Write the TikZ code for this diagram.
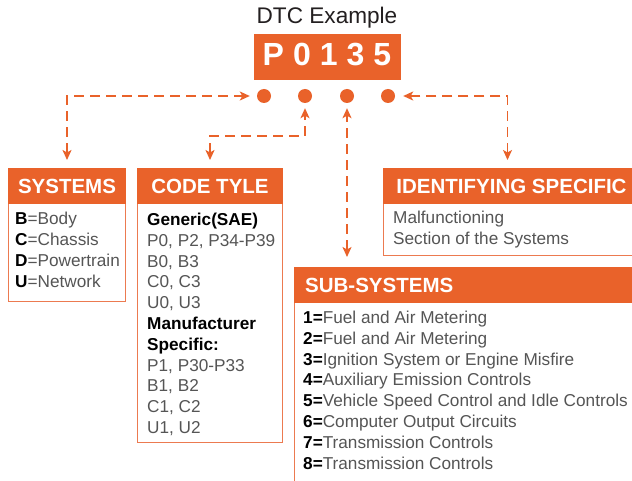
\documentclass[tikz,border=0pt]{standalone}
\usepackage{fontspec}
\setmainfont{Liberation Sans}
\usetikzlibrary{arrows.meta}
\definecolor{org}{HTML}{E9622A}
\definecolor{orgb}{HTML}{EC7A50}
\definecolor{txtg}{HTML}{555555}
\definecolor{ttl}{HTML}{231F20}
\newcommand\bk[1]{\textcolor{black}{\bfseries #1}}
\begin{document}
\begin{tikzpicture}[x=1pt,y=-1pt,
  hdrbox/.style={fill=org, draw=org, line width=1pt, anchor=north west, inner sep=0pt},
  hdrtxt/.style={text=white, inner sep=0pt, font=\fontsize{20.5}{24}\selectfont\bfseries},
  bodybox/.style={draw=orgb, line width=1.4pt, anchor=north west, inner sep=0pt},
  dot/.style={circle, fill=org, minimum size=14pt, inner sep=0pt},
  lnk/.style={draw=org, line width=1.5pt, dash pattern=on 10pt off 6pt,
    {Stealth[length=10pt,width=9pt,inset=2.5pt]}-{Stealth[length=10pt,width=9pt,inset=2.5pt]}},
  bt/.style={anchor=base west, inner sep=0pt, text=txtg, font=\fontsize{17.2}{20.8}\selectfont},
]
\useasboundingbox (0,0) rectangle (632,481);
\fill[white] (0,0) rectangle (632,481);

% title and code
\node[anchor=base, inner sep=0pt, text=ttl, font=\fontsize{22.6}{26}\selectfont] (title) at (327,24) {DTC Example};
\node[hdrbox, minimum width=146pt, minimum height=45pt] (code) at (254,34) {};
\node[anchor=base, inner sep=0pt, text=white, font=\fontsize{32}{36}\selectfont\bfseries] (codetxt) at (327,66)
  {P\hspace{9pt}0\hspace{9pt}1\hspace{9pt}3\hspace{9pt}5};

% dots
\node[dot] (d1) at (264,96) {};
\node[dot] (d2) at (305,96) {};
\node[dot] (d3) at (347,96) {};
\node[dot] (d4) at (388,96) {};

% SYSTEMS
\node[bodybox, minimum width=117pt, minimum height=133pt] (sysb) at (8,168) {};
\node[hdrbox, minimum width=117pt, minimum height=35pt] (sys) at (8,168) {};
\node[hdrtxt] (systxt) at (sys.center) {SYSTEMS};
\foreach \t [count=\i from 0] in {{\bk{B}=Body},{\bk{C}=Chassis},{\bk{D}=Powertrain},{\bk{U}=Network}}
  \node[bt] (s\i) at (15,225+20.8*\i) {\t};

% CODE TYLE
\node[bodybox, minimum width=145pt, minimum height=274pt] (ctb) at (137,168) {};
\node[hdrbox, minimum width=145pt, minimum height=35pt] (ct) at (137,168) {};
\node[hdrtxt] (cttxt) at (ct.center) {CODE TYLE};
\foreach \t [count=\i from 0] in {{\bk{Generic(SAE)}},{P0, P2, P34-P39},{B0, B3},{C0, C3},{U0, U3},
   {\bk{Manufacturer}},{\bk{Specific:}},{P1, P30-P33},{B1, B2},{C1, C2},{U1, U2}}
  \node[bt] (c\i) at (147,225.5+20.8*\i) {\t};

% IDENTIFYING SPECIFIC
\node[bodybox, minimum width=256pt, minimum height=87pt] (idb) at (383,168) {};
\node[hdrbox, minimum width=256pt, minimum height=35pt] (ident) at (383,168) {};
\node[hdrtxt] (idtxt) at (ident.center) {IDENTIFYING SPECIFIC};
\node[bt] (i0) at (393,224) {Malfunctioning};
\node[bt] (i1) at (393,245) {Section of the Systems};

% SUB-SYSTEMS
\node[bodybox, minimum width=350pt, minimum height=230pt] (subb) at (294,267) {};
\node[hdrbox, minimum width=350pt, minimum height=35pt] (sub) at (294,267) {};
\node[hdrtxt, anchor=west] (subtxt) at ([xshift=11pt]sub.west) {SUB-SYSTEMS};
\foreach \t [count=\i from 0] in {{\bk{1=}Fuel and Air Metering},{\bk{2=}Fuel and Air Metering},
   {\bk{3=}Ignition System or Engine Misfire},{\bk{4=}Auxiliary Emission Controls},
   {\bk{5=}Vehicle Speed Control and Idle Controls},{\bk{6=}Computer Output Circuits},
   {\bk{7=}Transmission Controls},{\bk{8=}Transmission Controls}}
  \node[bt] (u\i) at (303,323.5+20.8*\i) {\t};

% connectors
\draw[lnk, shorten <=8pt, shorten >=7pt] (sys.north) |- (d1.west);
\draw[lnk, shorten <=8pt, shorten >=5pt] (ct.north) -- ++(0,-32) -| (d2.south);
\draw[lnk, shorten <=10pt, shorten >=5pt] (sub.north -| d3) -- (d3.south);
\draw[lnk, shorten <=8pt, shorten >=8pt] ([xshift=-4pt]ident.north) |- (d4.east);
\end{tikzpicture}
\end{document}
